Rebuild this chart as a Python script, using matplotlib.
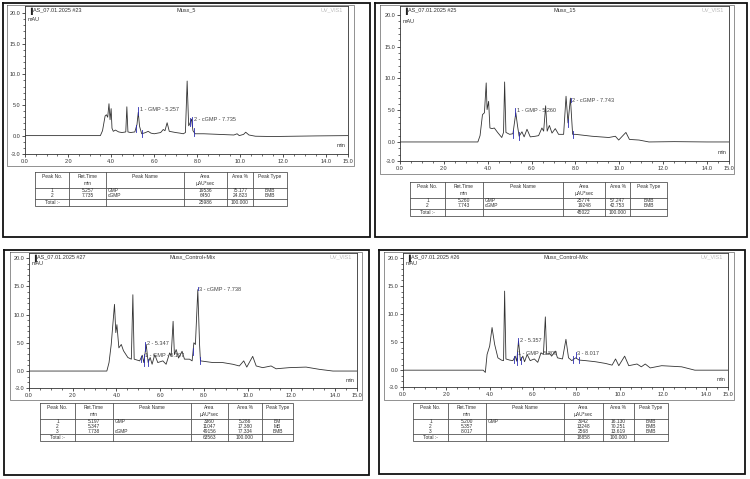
import numpy as np
import matplotlib
matplotlib.use("Agg")
import matplotlib.pyplot as plt
from matplotlib.ticker import MultipleLocator, FixedLocator

plt.rcParams['font.family'] = ['Liberation Sans', 'DejaVu Sans']

# ---------------- data ----------------
# Musx_5 (AS_07.01.2025 #23)
t_musx5 = [0, 3.5, 3.6, 3.72, 3.78, 3.84, 3.9, 3.95, 4.0, 4.04, 4.1, 4.2, 4.35, 4.5, 4.68, 4.73,
           4.78, 4.9, 5.1, 5.2, 5.26, 5.32, 5.42, 5.6, 5.72, 5.85, 6.0, 6.3, 6.42, 6.5, 6.6, 6.7,
           6.85, 7.0, 7.2, 7.35, 7.45, 7.53, 7.6, 7.66, 7.73, 7.8, 7.9, 8.3, 9.0, 9.7, 9.85, 9.95,
           10.15, 10.25, 10.4, 10.7, 11.5, 12.5, 13.5, 15.0]
v_musx5 = [0, 0, 0.8, 3.2, 3.4, 3.0, 5.2, 2.6, 4.4, 1.2, 0.7, 0.9, 0.6, 0.5, 0.6, 4.7,
           0.6, 0.5, 0.6, 1.8, 3.8, 1.5, 0.3, 0.5, 0.7, 0.4, 0.3, 0.5, 1.0, 0.8, 2.1, 0.7,
           0.6, 0.5, 0.4, 0.3, 0.5, 8.9, 1.6, 2.0, 2.7, 0.8, 0.3, 0.3, 0.2, 0.1, 0.3, 0.0,
           0.2, 0.55, 0.1, -0.1, -0.15, -0.1, -0.05, 0]

# Musx_15 (AS_07.01.2025 #25)
t_musx15 = [0, 3.55, 3.65, 3.76, 3.85, 3.93, 3.97, 4.04, 4.1, 4.2, 4.3, 4.45, 4.64, 4.72, 4.77,
            4.83, 5.0, 5.15, 5.28, 5.36, 5.43, 5.56, 5.66, 5.79, 5.94, 6.17, 6.32, 6.47, 6.55,
            6.64, 6.71, 6.81, 6.93, 7.08, 7.23, 7.46, 7.57, 7.66, 7.77, 7.87, 8.0, 8.75, 9.52,
            9.82, 9.97, 10.3, 10.46, 10.9, 11.35, 12.5, 14.0, 15.0]
v_musx15 = [0, 0, 1.0, 4.3, 4.6, 9.3, 5.1, 6.4, 2.2, 2.1, 2.2, 1.5, 0.7, 1.5, 9.45,
            1.5, 1.2, 1.3, 4.6, 2.5, 0.9, 1.6, 0.8, 2.0, 0.8, 0.9, 1.0, 2.2, 1.7,
            5.7, 1.7, 2.6, 1.4, 2.1, 1.2, 1.2, 7.2, 3.0, 6.9, 1.2, 1.2, 0.9, 0.7,
            0.9, 0.3, 1.5, 0.4, 0.3, 0.0, 0.05, 0.0, 0.0]

# Musx_Control+Mix (AS_07.01.2025 #27)
t_ctrl_plus = [0, 3.56, 3.66, 3.76, 3.91, 3.97, 4.02, 4.11, 4.22, 4.32, 4.52, 4.68, 4.75, 4.81,
               5.06, 5.18, 5.25, 5.36, 5.45, 5.54, 5.63, 5.75, 5.89, 6.12, 6.27, 6.43, 6.5, 6.59,
               6.65, 6.73, 6.84, 7.0, 7.11, 7.34, 7.46, 7.54, 7.61, 7.72, 7.8, 7.84, 8.41, 8.86,
               9.32, 9.62, 9.82, 9.96, 10.23, 10.39, 10.69, 11.07, 11.3, 11.9, 12.67, 13.28,
               13.9, 15.0]
v_ctrl_plus = [0, 0, 1.5, 4.7, 11.8, 6.8, 8.2, 4.1, 4.7, 3.6, 2.4, 2.1, 13.5, 2.1,
               1.8, 2.8, 1.5, 4.7, 1.5, 2.4, 1.2, 2.9, 1.5, 1.8, 1.2, 3.2, 2.6, 8.8,
               2.9, 3.8, 2.3, 3.5, 2.1, 2.1, 1.8, 5.0, 4.7, 14.4, 4.7, 1.8, 1.5, 1.5,
               1.2, 0.9, 1.8, 0.7, 2.6, 0.9, 0.6, 0.9, 0.4, 0.6, 0.7, 0.3,
               0.0, 0.0]

# Musx_Control-Mix (AS_07.01.2025 #26)
t_ctrl_minus = [0, 3.7, 3.8, 3.88, 4.0, 4.11, 4.23, 4.38, 4.54, 4.64, 4.69, 4.75, 4.92, 5.07,
                5.18, 5.25, 5.33, 5.42, 5.53, 5.61, 5.73, 5.87, 6.06, 6.22, 6.37, 6.48, 6.57,
                6.63, 6.75, 6.86, 7.03, 7.13, 7.36, 7.52, 7.64, 7.79, 7.97, 8.13, 8.43, 8.89,
                9.35, 9.65, 9.81, 9.96, 10.23, 10.42, 10.8, 11.0, 11.18, 11.41, 11.94, 12.86,
                13.47, 13.93, 15.0]
v_ctrl_minus = [0, 0, -0.4, 2.8, 4.3, 7.6, 4.6, 2.2, 1.8, 1.7, 14.1, 2.0, 1.8, 1.7,
                2.5, 1.6, 5.2, 1.7, 2.5, 1.5, 2.8, 1.7, 2.0, 1.4, 3.1, 2.8, 9.5,
                2.8, 3.1, 2.5, 3.4, 2.2, 2.0, 5.5, 2.2, 1.7, 2.2, 1.8, 1.7, 1.5,
                1.2, 0.9, 2.0, 0.8, 2.5, 0.8, 1.1, 0.6, 1.1, 0.4, 0.8, 0.6,
                0.0, 0.0, 0.0]

# peak labels: (time, label y, text)
labels_musx5 = [(5.33, 4.3, "1 - GMP - 5.257"), (7.83, 2.7, "2 - cGMP - 7.735")]
labels_musx15 = [(5.32, 5.0, "1 - GMP - 5.260"), (7.84, 6.6, "2 - cGMP - 7.743")]
labels_ctrl_plus = [(5.38, 4.8, "2 - 5.347"), (5.3, 2.7, "1 - GMP - 5.197"),
                    (7.78, 14.5, "3 - cGMP - 7.738")]
labels_ctrl_minus = [(5.38, 5.3, "2 - 5.357"), (5.3, 2.9, "1 - GMP - 5.200"),
                     (8.05, 2.9, "3 - 8.017")]

# integration boundaries (min)
bounds_musx5 = [5.15, 5.42, 7.68, 7.84]
bounds_musx15 = [5.15, 5.43, 7.66, 7.87]
bounds_ctrl_plus = [5.1, 5.25, 5.45, 7.5, 7.84]
bounds_ctrl_minus = [5.1, 5.25, 5.43, 7.85, 8.13]

# tables
col_headers = [("Peak No.", ""), ("Ret.Time", "min"), ("Peak Name", ""),
               ("Area", "µAU*sec"), ("Area %", ""), ("Peak Type", "")]
rows_musx5 = [("1", "5.257", "GMP", "19536", "75.177", "BMB"),
              ("2", "7.735", "cGMP", "6450", "24.823", "BMB")]
total_musx5 = ("25986", "100.000")
rows_musx15 = [("1", "5.260", "GMP", "25774", "57.247", "BMB"),
               ("2", "7.743", "cGMP", "19248", "42.753", "BMB")]
total_musx15 = ("45022", "100.000")
rows_ctrl_plus = [("1", "5.197", "GMP", "3360", "5.286", "BM"),
                  ("2", "5.347", "", "11047", "17.380", "MB"),
                  ("3", "7.738", "cGMP", "49156", "77.334", "BMB")]
total_ctrl_plus = ("63563", "100.000")
rows_ctrl_minus = [("1", "5.200", "GMP", "3042", "16.130", "BMB"),
                   ("2", "5.357", "", "13248", "70.251", "BMB"),
                   ("3", "8.017", "", "2568", "13.619", "BMB")]
total_ctrl_minus = ("18858", "100.000")

headers = [("AS_07.01.2025 #23", "Musx_5"), ("AS_07.01.2025 #25", "Musx_15"),
           ("AS_07.01.2025 #27", "Musx_Control+Mix"), ("AS_07.01.2025 #26", "Musx_Control-Mix")]

# ---------------- layout (pixels) ----------------
W, H = 750, 479
fig = plt.figure(figsize=(7.5, 4.79), dpi=100)
bg = fig.add_axes([0, 0, 1, 1])
bg.set_xlim(0, W)
bg.set_ylim(H, 0)
bg.axis('off')

panels = [
    dict(border=(3, 3, 370, 237), frame=(7, 5, 354, 166), axes=(25, 6, 348, 154), y20=13,
         table=(172, [35, 69, 106, 184, 227, 253, 287]),
         t=t_musx5, v=v_musx5, labels=labels_musx5, bounds=bounds_musx5,
         rows=rows_musx5, total=total_musx5, head=headers[0]),
    dict(border=(375, 3, 747, 237), frame=(380, 5, 734, 174), axes=(400, 6, 729, 161), y20=15,
         table=(182, [410, 445, 483, 563, 605, 630, 667]),
         t=t_musx15, v=v_musx15, labels=labels_musx15, bounds=bounds_musx15,
         rows=rows_musx15, total=total_musx15, head=headers[1]),
    dict(border=(4, 250, 369, 475), frame=(10, 252, 362, 400), axes=(29, 253, 357, 388), y20=258,
         table=(403, [40, 75, 113, 191, 228, 262, 293]),
         t=t_ctrl_plus, v=v_ctrl_plus, labels=labels_ctrl_plus, bounds=bounds_ctrl_plus,
         rows=rows_ctrl_plus, total=total_ctrl_plus, head=headers[2]),
    dict(border=(379, 250, 745, 474), frame=(384, 252, 734, 400), axes=(403, 253, 728, 387), y20=258,
         table=(403, [413, 448, 486, 564, 603, 634, 668]),
         t=t_ctrl_minus, v=v_ctrl_minus, labels=labels_ctrl_minus, bounds=bounds_ctrl_minus,
         rows=rows_ctrl_minus, total=total_ctrl_minus, head=headers[3]),
]

FS = 4.0
FT = 3.5
TXT = '#333333'
BLUE = '#2b2bb0'


def rect(x0, y0, x1, y1, lw, color):
    bg.plot([x0, x1, x1, x0, x0], [y0, y0, y1, y1, y0], color=color, lw=lw,
            solid_joinstyle='miter')


def draw_table(top, cols, rows, total):
    hh, rh, th = 15.5, 4.8, 7.0
    bottom = top + hh + rh * len(rows) + 1.5 + th
    lc = '#555555'
    rect(cols[0], top, cols[-1], bottom, 0.6, lc)
    for c in cols[1:-1]:
        bg.plot([c, c], [top, bottom], color=lc, lw=0.6)
    bg.plot([cols[0], cols[-1]], [top + hh, top + hh], color=lc, lw=0.6)
    ytot = top + hh + rh * len(rows) + 1.5
    bg.plot([cols[0], cols[-1]], [ytot, ytot], color=lc, lw=0.6)
    for i, (h1, h2) in enumerate(col_headers):
        xc = (cols[i] + cols[i + 1]) / 2
        bg.text(xc, top + 4.5, h1, fontsize=FT, ha='center', va='center', color=TXT)
        if h2:
            bg.text(xc, top + 11.5, h2, fontsize=FT, ha='center', va='center', color=TXT)
    for r, row in enumerate(rows):
        y = top + hh + rh * r + 3.0
        for i, val in enumerate(row):
            if i == 2:
                bg.text(cols[i] + 2, y, val, fontsize=FT, ha='left', va='center', color=TXT)
            else:
                xc = (cols[i] + cols[i + 1]) / 2
                bg.text(xc, y, val, fontsize=FT, ha='center', va='center', color=TXT)
    y = ytot + th / 2
    bg.text((cols[0] + cols[1]) / 2, y, "Total :-", fontsize=FT, ha='center', va='center', color=TXT)
    bg.text((cols[3] + cols[4]) / 2, y, total[0], fontsize=FT, ha='center', va='center', color=TXT)
    bg.text((cols[4] + cols[5]) / 2, y, total[1], fontsize=FT, ha='center', va='center', color=TXT)


for p in panels:
    rect(*p['border'], 1.3, '#111111')
    rect(*p['frame'], 0.5, '#666666')
    x0, y0, x1, y1 = p['axes']
    ax = fig.add_axes([x0 / W, 1 - y1 / H, (x1 - x0) / W, (y1 - y0) / H])
    ppu = (y1 - p['y20']) / 23.0
    ytop = -3 + (y1 - y0) / ppu
    ax.set_xlim(0, 15)
    ax.set_ylim(-3, ytop)
    ax.plot(p['t'], p['v'], color='#333333', lw=0.6)
    for sp in ax.spines.values():
        sp.set_linewidth(0.6)
        sp.set_color('#333333')
    ax.yaxis.set_major_locator(FixedLocator([-3, 0, 5, 10, 15, 20]))
    ax.yaxis.set_minor_locator(FixedLocator([v for v in range(-2, 20) if v % 5 != 0]))
    ax.xaxis.set_major_locator(FixedLocator([0, 2, 4, 6, 8, 10, 12, 14, 15]))
    ax.xaxis.set_minor_locator(MultipleLocator(0.5))
    ax.set_yticklabels(["-3.0", "0.0", "5.0", "10.0", "15.0", "20.0"])
    ax.set_xticklabels(["0.0", "2.0", "4.0", "6.0", "8.0", "10.0", "12.0", "14.0", "15.0"])
    ax.tick_params(which='major', length=2.5, width=0.6, labelsize=FS, colors='#333333', pad=1)
    ax.tick_params(which='minor', length=1.5, width=0.5, colors='#333333')
    ax.text(0.008, 0.99, "\u2590", transform=ax.transAxes, fontsize=FS,
            ha='left', va='top', color='#222222')
    ax.text(0.025, 0.99, p['head'][0], transform=ax.transAxes, fontsize=FS,
            ha='left', va='top', color=TXT)
    ax.text(0.5, 0.99, p['head'][1], transform=ax.transAxes, fontsize=FS, ha='center',
            va='top', color=TXT)
    ax.text(0.985, 0.99, "UV_VIS1", transform=ax.transAxes, fontsize=FS, ha='right',
            va='top', color='#bbbbbb')
    ax.text(0.1, 19.0, "mAU", fontsize=FS, ha='left', va='center', color=TXT)
    ax.text(14.9, -1.6, "min", fontsize=FS, ha='right', va='center', color=TXT)
    for (lt, ly, s) in p['labels']:
        vy = float(np.interp(lt - 0.06, p['t'], p['v']))
        ax.plot([lt - 0.06, lt - 0.06], [min(vy, ly), ly + 0.4], color=BLUE, lw=0.6)
        ax.text(lt, ly, s, fontsize=FS, ha='left', va='center', color='#444444')
    for b in p['bounds']:
        vb = float(np.interp(b, p['t'], p['v']))
        ax.plot([b, b], [vb - 0.6, vb + 0.6], color=BLUE, lw=0.6)
    draw_table(p['table'][0], p['table'][1], p['rows'], p['total'])

fig.savefig("out.png", dpi=100)
